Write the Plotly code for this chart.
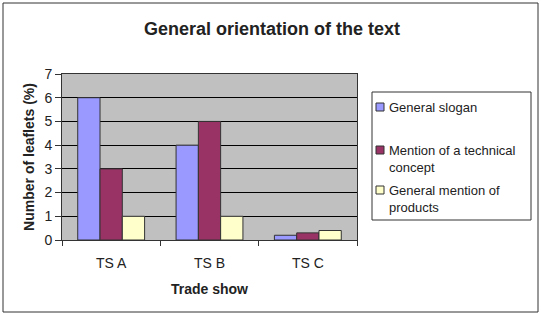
import plotly.graph_objects as go

categories = ["TS A", "TS B", "TS C"]
general_slogan = [6, 4, 0.2]
technical_concept = [3, 5, 0.3]
general_products = [1, 1, 0.4]
series_names = ["General slogan", "Mention of a technical<br>concept", "General mention of<br>products"]
colors = ["#9999FF", "#993366", "#FFFFCC"]

W, H = 541, 316
L, R, T, B = 62, 184, 74, 76
pw, ph = W - L - R, H - T - B

def px(x):
    return (x - L) / pw

def py(y):
    return (H - B - y) / ph

fig = go.Figure()
for name, vals, col in zip(series_names, [general_slogan, technical_concept, general_products], colors):
    fig.add_trace(go.Bar(x=categories, y=vals, name=name, showlegend=False,
                         marker=dict(color=col, line=dict(color="#333333", width=1))))

shapes = [dict(type="rect", xref="paper", yref="paper", x0=px(3), x1=px(538), y0=py(3), y1=py(312),
               line=dict(color="#333333", width=1), layer="below"),
          dict(type="rect", xref="paper", yref="paper", x0=px(372), x1=px(531), y0=py(92), y1=py(220),
               line=dict(color="#333333", width=1), fillcolor="white")]
annotations = []
legend_rows = [107, 150, 190]
for name, col, yc in zip(series_names, colors, legend_rows):
    shapes.append(dict(type="rect", xref="paper", yref="paper", x0=px(376), x1=px(384),
                       y0=py(yc + 4), y1=py(yc - 4), line=dict(color="#333333", width=1), fillcolor=col))
    annotations.append(dict(text=name, xref="paper", yref="paper", x=px(387), y=py(yc - 9),
                            xanchor="left", yanchor="top", align="left", showarrow=False,
                            font=dict(size=13)))

fig.update_layout(
    width=W, height=H,
    margin=dict(l=L, r=R, t=T, b=B),
    paper_bgcolor="white",
    plot_bgcolor="#C0C0C0",
    font=dict(family="Liberation Sans, Arial", size=14, color="#222222"),
    barmode="group",
    bargap=0.32, bargroupgap=0,
    title=dict(text="<b>General orientation of the text</b>", x=px(272), xref="paper", xanchor="center",
               y=1 - 29 / H, yanchor="middle", font=dict(size=18)),
    showlegend=False,
    xaxis=dict(showline=True, linecolor="#333333", ticks="outside", tickson="boundaries", ticklen=5,
               tickcolor="#333333", tickfont=dict(size=14), ticklabelstandoff=10,
               title=dict(text="<b>Trade show</b>", font=dict(size=14), standoff=14),
               mirror=True),
    yaxis=dict(range=[0, 7], dtick=1, showgrid=True, gridcolor="#000000", gridwidth=1, showline=True,
               linecolor="#333333", ticks="outside", ticklen=6, tickcolor="#333333", mirror=True,
               tickfont=dict(size=14), zeroline=False,
               title=dict(text="<b>Number of leaflets (%)</b>", font=dict(size=14), standoff=6)),
    shapes=shapes,
    annotations=annotations,
)

fig.write_html("out.html")
